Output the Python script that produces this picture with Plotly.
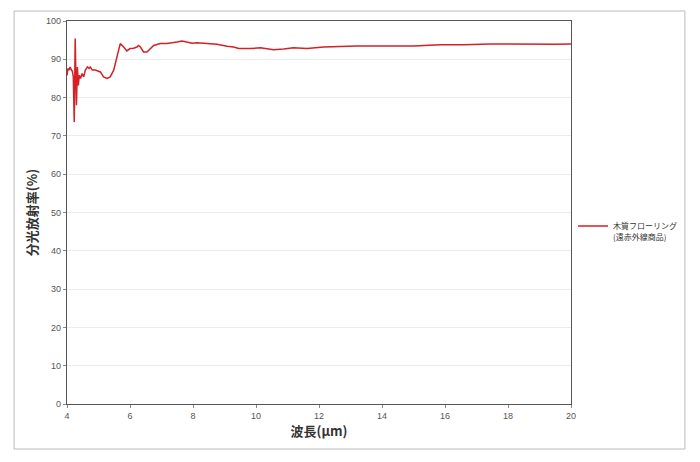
import plotly.graph_objects as go

wavelength = [4.0, 4.03, 4.07, 4.1, 4.14, 4.17, 4.2, 4.23, 4.26, 4.30, 4.33, 4.36, 4.39, 4.43,
              4.48, 4.53, 4.58, 4.65, 4.7, 4.74, 4.8, 4.9, 5.06, 5.16, 5.27, 5.37, 5.48,
              5.59, 5.69, 5.8, 5.9, 6.0, 6.11, 6.22, 6.27, 6.33, 6.43, 6.54, 6.64, 6.75,
              6.96, 7.17, 7.49, 7.65, 7.8, 7.97, 8.13, 8.44, 8.76, 9.08, 9.29, 9.45,
              9.82, 10.14, 10.56, 10.88, 11.19, 11.62, 12.15, 13.2, 14.27, 15.0, 15.85,
              16.59, 17.44, 18.7, 19.5, 20.0]
emissivity = [85.8, 87.6, 87.2, 88.0, 87.2, 86.9, 85.4, 73.6, 95.4, 78.0, 88.0, 83.2, 85.8, 85.0,
              86.3, 85.4, 87.1, 88.0, 87.6, 88.0, 87.2, 87.2, 86.7, 85.4, 85.0, 85.4, 87.1,
              90.6, 94.1, 93.2, 92.2, 92.8, 92.9, 93.2, 93.6, 93.2, 91.9, 91.9, 92.8, 93.6,
              94.1, 94.1, 94.5, 94.8, 94.5, 94.2, 94.3, 94.1, 93.9, 93.4, 93.2, 92.8,
              92.8, 93.0, 92.5, 92.7, 93.0, 92.8, 93.2, 93.5, 93.5, 93.5, 93.8,
              93.8, 94.0, 93.9, 93.9, 94.0]

series_name = "木質フローリング<br>(遠赤外線商品)"
x_ticks = [4, 6, 8, 10, 12, 14, 16, 18, 20]
y_ticks = [0, 10, 20, 30, 40, 50, 60, 70, 80, 90, 100]

fig = go.Figure()
fig.add_trace(go.Scatter(
    x=wavelength, y=emissivity, mode="lines", name=series_name,
    line=dict(color="#d42027", width=1.5),
))

axis_font = dict(family="Liberation Sans, Arial, sans-serif", size=9, color="#555555")
title_font = dict(family="Noto Sans CJK JP", size=13, color="#333333")

# page body has an 8px margin, so the figure is sized/positioned to compensate
fig.update_layout(
    width=692, height=454,
    margin=dict(l=59, r=129, t=13, b=58, autoexpand=False),
    paper_bgcolor="white", plot_bgcolor="white",
    showlegend=True,
    legend=dict(x=1.004, y=0.495, xanchor="left", yanchor="top", valign="top",
                itemwidth=30,
                font=dict(family="Noto Sans CJK JP", size=8, color="#333333"),
                bgcolor="rgba(0,0,0,0)"),
    xaxis=dict(range=[4, 20], tickvals=x_ticks, ticks="outside", ticklen=3,
               tickcolor="#888888", showgrid=False, zeroline=False, automargin=False,
               showline=True, linecolor="#555555", linewidth=1.2, mirror=True,
               tickfont=axis_font,
               title=dict(text="<b>波長(μm)</b>", font=title_font, standoff=4)),
    yaxis=dict(range=[0, 100], tickvals=y_ticks, ticks="outside", ticklen=3,
               tickcolor="#888888", showgrid=True, gridcolor="#ececec", gridwidth=1,
               zeroline=False, showline=True, linecolor="#555555", linewidth=1.2,
               mirror=True, tickfont=axis_font, automargin=False,
               title=dict(text="<b>分光放射率(%)</b>", font=title_font, standoff=5)),
    shapes=[dict(type="rect", xref="paper", yref="paper",
                 x0=-0.105, x1=1.226, y0=-0.1175, y1=1.026,
                 line=dict(color="#bbbbbb", width=1), fillcolor="rgba(0,0,0,0)",
                 layer="below")],
)

fig.write_html("out.html")
